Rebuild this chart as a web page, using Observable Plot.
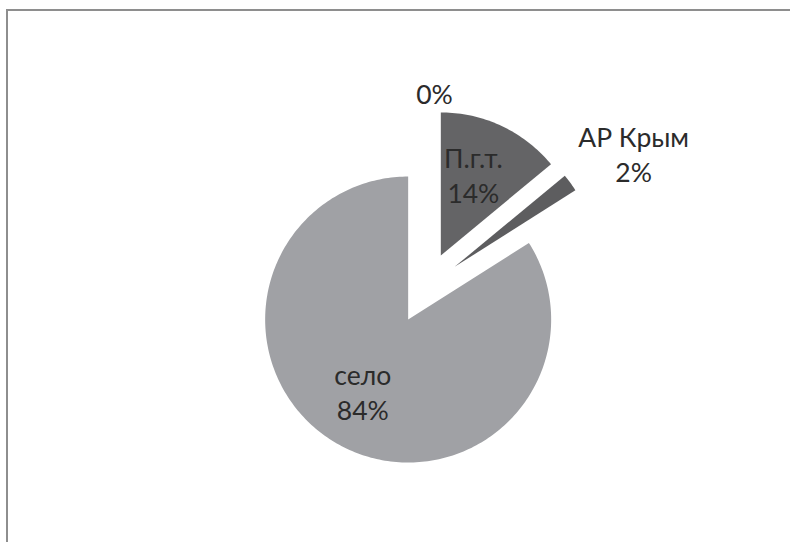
<!DOCTYPE html>
<html>
<head>
<meta charset="utf-8">
<script src="https://cdn.jsdelivr.net/npm/d3@7"></script>
<script src="https://cdn.jsdelivr.net/npm/@observablehq/plot@0.6"></script>
<style>
  html, body { margin: 0; padding: 0; background: #fff; }
  #wrap { position: relative; width: 790px; height: 542px; overflow: hidden; }
  #frame { position: absolute; left: 6px; top: 9px; width: 900px; height: 700px;
           border-left: 2px solid #8e8e8e; border-top: 2px solid #8e8e8e; }
  #chart { position: absolute; left: 0; top: 0; }
</style>
</head>
<body>
<div id="wrap"><div id="frame"></div><div id="chart"></div></div>
<script>
// Data (clockwise from 12 o'clock)
const categories = ["", "П.г.т.", "АР Крым", "село"];
const values = [0, 14, 2, 84];
const percentLabels = ["0%", "14%", "2%", "84%"];
const sliceColors = ["#606062", "#646466", "#5d5d5f", "#a0a1a5"];
const labelInside = [false, true, false, true];

// layout constants (pixels)
const W = 790, H = 542, R = 143, CX = 425, CY = 287.5, EXPLODE = 36, FONT = 26.5, LINE_H = 35;

const arcs = d3.pie().sort(null).value(d => d)(values);
const dir = a => [Math.sin(a), -Math.cos(a)];
const ex = EXPLODE / R;

const polyPts = [];
const labels = [];
arcs.forEach((a, i) => {
  const mid = (a.startAngle + a.endAngle) / 2;
  const [dx, dy] = dir(mid);
  const ox = dx * ex, oy = dy * ex;
  if (a.endAngle - a.startAngle > 0) {
    polyPts.push({k: i, x: ox, y: oy});
    const n = Math.max(2, Math.ceil((a.endAngle - a.startAngle) / 0.02));
    for (let j = 0; j <= n; j++) {
      const t = a.startAngle + (a.endAngle - a.startAngle) * j / n;
      const [ux, uy] = dir(t);
      polyPts.push({k: i, x: ox + ux, y: oy + uy});
    }
  }
  const text = categories[i] ? categories[i] + "\n" + percentLabels[i] : percentLabels[i];
  const lines = text.split("\n");
  let lx, ly;
  if (labelInside[i]) {
    lx = ox + dx * 0.6 - 4 / R; ly = oy + dy * 0.6 - 3 / R;
  } else {
    const w = d3.max(lines, l => l.length) * 16 / R;
    const h = lines.length * LINE_H / R;
    const px = ox + dx * 0.874, py = oy + dy * 0.874;
    lx = px + 1.72 * dx * w / 2 + (lines.length === 1 ? 9 / R : 0);
    ly = py + 1.97 * dy * h / 2;
  }
  labels.push({x: lx, y: ly, text});
});

const plot = Plot.plot({
  width: W, height: H,
  margin: 0,
  style: {background: "transparent", fontFamily: "Lato, 'Open Sans', sans-serif"},
  x: {domain: [-CX / R, (W - CX) / R], range: [0, W], axis: null},
  y: {domain: [-CY / R, (H - CY) / R], range: [0, H], axis: null},
  color: {domain: d3.range(categories.length), range: sliceColors},
  marks: [
    Plot.line(polyPts, {x: "x", y: "y", z: "k", fill: "k", stroke: null, curve: "linear"}),
    Plot.text(labels, {x: "x", y: "y", text: "text", fontSize: FONT, lineHeight: LINE_H / FONT,
                       fill: "#2b2b2b", fontFamily: "Lato, 'Open Sans', sans-serif"})
  ]
});
document.getElementById("chart").appendChild(plot);
</script>
</body>
</html>
